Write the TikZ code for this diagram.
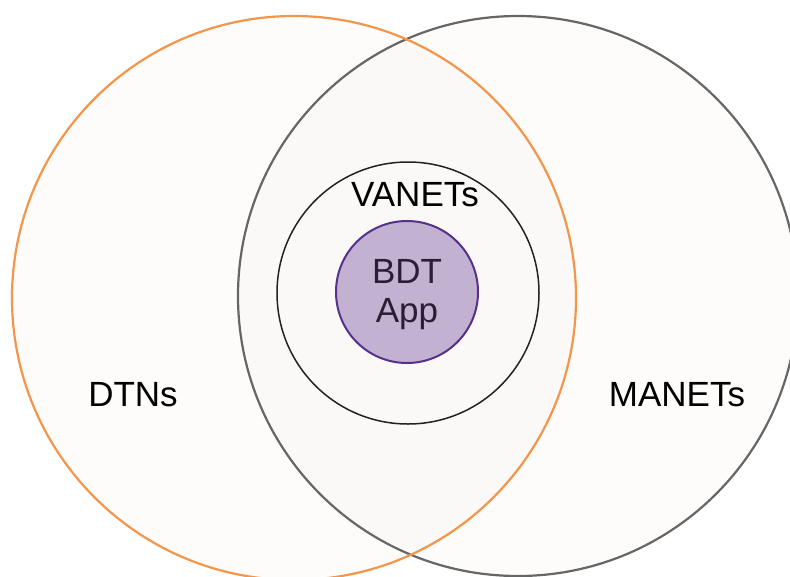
\documentclass[tikz,border=0pt]{standalone}
\usepackage{fontspec}
\setmainfont{Liberation Sans}
\definecolor{orangeline}{HTML}{F5954A}
\definecolor{grayline}{HTML}{666666}
\definecolor{innerline}{HTML}{222222}
\definecolor{purpleline}{HTML}{56308A}
\definecolor{purplefill}{HTML}{C3B1D2}
\definecolor{tint}{HTML}{F6F0EA}
\definecolor{bdttext}{HTML}{2A1E36}
\tikzset{
  bigfill/.style={fill=tint, fill opacity=0.18},
  bigline/.style={line width=2.2pt},
  lbl/.style={font=\fontsize{35}{40}\selectfont, anchor=base, inner sep=0pt},
}
\begin{document}
\begin{tikzpicture}[x=1pt,y=-1pt]
\useasboundingbox (0,0) rectangle (790,576);
\clip (0,0) rectangle (790,576);
\fill[white] (0,0) rectangle (790,576);
\fill[bigfill] (294,298) circle[radius=282pt];
\fill[bigfill] (518,296) circle[radius=280pt];
\draw[bigline, draw=grayline] (518,296) circle[radius=280pt];
\draw[bigline, draw=orangeline] (294,298) circle[radius=282pt];
\draw[innerline, line width=1.5pt] (408,293) circle[radius=131pt];
\draw[purpleline, fill=purplefill, line width=2pt] (407,292) circle[radius=71pt];
\node[lbl] (vanets) at (415,206) {VANETs};
\node[lbl] (dtns) at (133,406) {DTNs};
\node[lbl] (manets) at (677,406) {MANETs};
\node[lbl, text=bdttext] (bdt) at (407,283) {BDT};
\node[lbl, text=bdttext] (app) at (407,322) {App};
\end{tikzpicture}
\end{document}
